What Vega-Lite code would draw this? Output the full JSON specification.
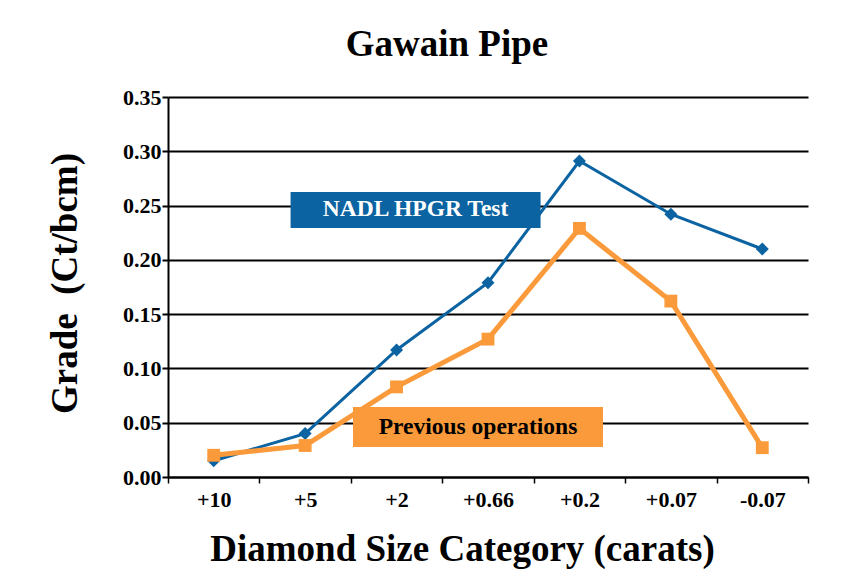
{
  "$schema": "https://vega.github.io/schema/vega-lite/v6.json",
  "width": 640,
  "height": 380,
  "autosize": {"type": "none"},
  "padding": {"left": 168, "top": 97, "right": 58, "bottom": 106},
  "background": "white",
  "config": {"font": "Liberation Serif", "view": {"stroke": null}},
  "title": {"text": "Gawain Pipe", "fontSize": 37, "font": "Liberation Serif", "fontWeight": "bold", "anchor": "middle", "dx": -41, "offset": 22, "color": "black"},
  "datasets": {
    "series": [
      {"cat": "+10", "series": "NADL HPGR Test", "value": 0.015},
      {"cat": "+5", "series": "NADL HPGR Test", "value": 0.040},
      {"cat": "+2", "series": "NADL HPGR Test", "value": 0.117},
      {"cat": "+0.66", "series": "NADL HPGR Test", "value": 0.179},
      {"cat": "+0.2", "series": "NADL HPGR Test", "value": 0.291},
      {"cat": "+0.07", "series": "NADL HPGR Test", "value": 0.242},
      {"cat": "-0.07", "series": "NADL HPGR Test", "value": 0.210},
      {"cat": "+10", "series": "Previous operations", "value": 0.020},
      {"cat": "+5", "series": "Previous operations", "value": 0.029},
      {"cat": "+2", "series": "Previous operations", "value": 0.083},
      {"cat": "+0.66", "series": "Previous operations", "value": 0.127},
      {"cat": "+0.2", "series": "Previous operations", "value": 0.229},
      {"cat": "+0.07", "series": "Previous operations", "value": 0.162},
      {"cat": "-0.07", "series": "Previous operations", "value": 0.027}
    ],
    "labels": [
      {"cat": "+2", "label": "NADL HPGR Test", "lo": 0.2293, "hi": 0.2625, "mid": 0.2465},
      {"cat": "+0.66", "label": "Previous operations", "lo": 0.0276, "hi": 0.0645, "mid": 0.0462}
    ]
  },
  "encoding": {
    "x": {
      "field": "cat", "type": "nominal",
      "sort": ["+10", "+5", "+2", "+0.66", "+0.2", "+0.07", "-0.07"],
      "scale": {"type": "band", "paddingInner": 0, "paddingOuter": 0},
      "axis": {
        "title": "Diamond Size Category (carats)", "titleFontSize": 37, "titleFontWeight": "bold", "titleColor": "black",
        "titleX": 294, "titleY": 72, "titleBaseline": "middle", "titleAlign": "center",
        "labelFontSize": 22, "labelFontWeight": "bold", "labelColor": "black", "labelAngle": 0, "labelPadding": 6,
        "tickBand": "extent", "tickSize": 6, "tickColor": "black", "tickWidth": 1.5,
        "domainColor": "black", "domainWidth": 2, "grid": false
      }
    }
  },
  "layer": [
    {
      "data": {"name": "series"},
      "transform": [{"filter": "datum.series === 'NADL HPGR Test'"}],
      "mark": {"type": "line", "color": "#0b63a2", "strokeWidth": 3},
      "encoding": {
        "y": {
          "field": "value", "type": "quantitative",
          "scale": {"domain": [0, 0.35], "nice": false},
          "axis": {
            "title": "Grade\u00a0 (Ct/bcm)", "values": [0, 0.05, 0.1, 0.15, 0.2, 0.25, 0.3, 0.35], "format": ".2f",
            "grid": true, "gridColor": "black", "gridWidth": 2, "gridOpacity": 1,
            "tickSize": 6, "tickColor": "black", "tickWidth": 2, "domainColor": "black", "domainWidth": 2,
            "labelFontSize": 22, "labelFontWeight": "bold", "labelColor": "black", "labelPadding": 1,
            "titleFontSize": 37, "titleFontWeight": "bold", "titleColor": "black",
            "titleX": -103, "titleY": 186, "titleAngle": -90, "titleAlign": "center", "titleBaseline": "middle"
          }
        }
      }
    },
    {
      "data": {"name": "series"},
      "transform": [{"filter": "datum.series === 'NADL HPGR Test'"}],
      "mark": {"type": "point", "shape": "diamond", "filled": true, "opacity": 1, "color": "#0b63a2", "size": 170},
      "encoding": {"y": {"field": "value", "type": "quantitative"}}
    },
    {
      "data": {"name": "series"},
      "transform": [{"filter": "datum.series === 'Previous operations'"}],
      "mark": {"type": "line", "color": "#fb9a3a", "strokeWidth": 5},
      "encoding": {"y": {"field": "value", "type": "quantitative"}}
    },
    {
      "data": {"name": "series"},
      "transform": [{"filter": "datum.series === 'Previous operations'"}],
      "mark": {"type": "point", "shape": "square", "filled": true, "opacity": 1, "color": "#fb9a3a", "size": 165},
      "encoding": {"y": {"field": "value", "type": "quantitative"}}
    },
    {
      "data": {"name": "labels"},
      "transform": [{"filter": "datum.label === 'NADL HPGR Test'"}],
      "mark": {"type": "bar", "width": 250, "xOffset": 19, "color": "#0b63a2"},
      "encoding": {
        "y": {"field": "lo", "type": "quantitative"},
        "y2": {"field": "hi"}
      }
    },
    {
      "data": {"name": "labels"},
      "transform": [{"filter": "datum.label === 'Previous operations'"}],
      "mark": {"type": "bar", "width": 250, "xOffset": -10, "color": "#fb9a3a"},
      "encoding": {
        "y": {"field": "lo", "type": "quantitative"},
        "y2": {"field": "hi"}
      }
    },
    {
      "data": {"name": "labels"},
      "transform": [{"filter": "datum.label === 'NADL HPGR Test'"}],
      "mark": {"type": "text", "dx": 19, "baseline": "middle", "align": "center", "fontSize": 23.5, "fontWeight": "bold", "font": "Liberation Serif", "color": "white"},
      "encoding": {
        "y": {"field": "mid", "type": "quantitative"},
        "text": {"field": "label"}
      }
    },
    {
      "data": {"name": "labels"},
      "transform": [{"filter": "datum.label === 'Previous operations'"}],
      "mark": {"type": "text", "dx": -10, "baseline": "middle", "align": "center", "fontSize": 23.5, "fontWeight": "bold", "font": "Liberation Serif", "color": "black"},
      "encoding": {
        "y": {"field": "mid", "type": "quantitative"},
        "text": {"field": "label"}
      }
    }
  ]
}
